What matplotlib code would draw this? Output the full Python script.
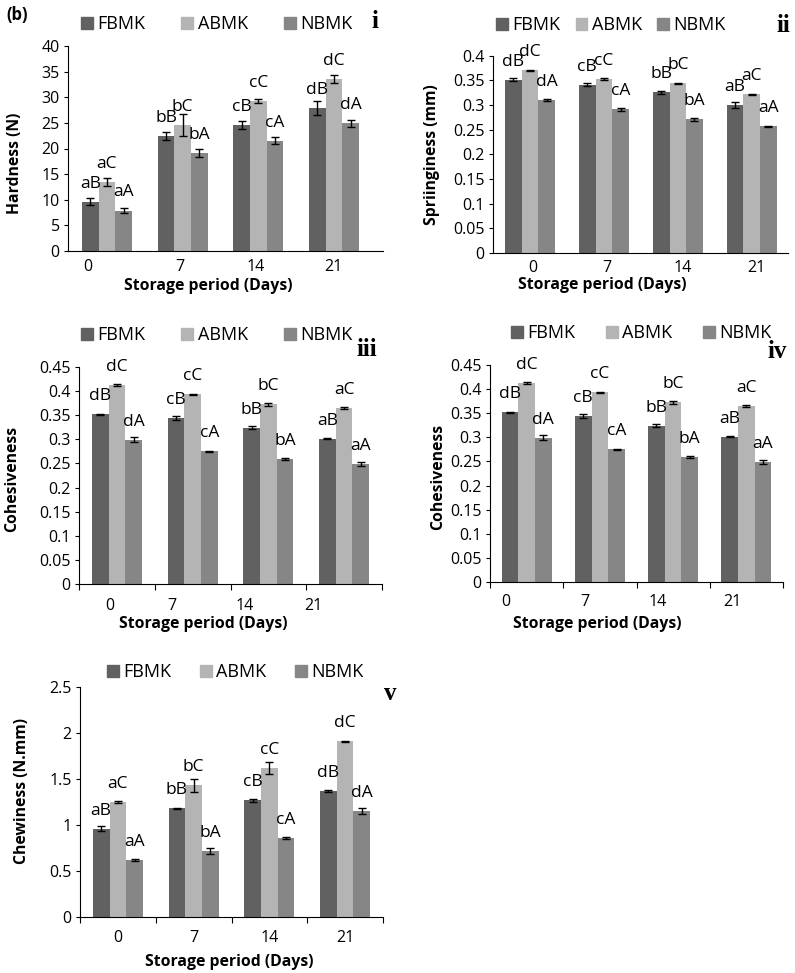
import matplotlib
matplotlib.use('Agg')
import matplotlib.pyplot as plt
import numpy as np
from matplotlib.patches import Patch

plt.rcParams['font.family'] = ['Open Sans', 'DejaVu Sans']

days = ['0', '7', '14', '21']
groups = ['FBMK', 'ABMK', 'NBMK']
colors = ['#616161', '#b4b4b4', '#868686']

# hardness (N)
hard_fbmk = [9.6, 22.4, 24.6, 27.9]
hard_abmk = [13.5, 24.6, 29.2, 33.5]
hard_nbmk = [7.9, 19.2, 21.5, 24.9]
hard_fbmk_err = [0.7, 0.8, 0.7, 1.3]
hard_abmk_err = [0.8, 2.1, 0.4, 0.8]
hard_nbmk_err = [0.4, 0.8, 0.7, 0.7]
hard_fbmk_lab = ['aB', 'bB', 'cB', 'dB']
hard_abmk_lab = ['aC', 'bC', 'cC', 'dC']
hard_nbmk_lab = ['aA', 'bA', 'cA', 'dA']

# springiness (mm)
spr_fbmk = [0.351, 0.341, 0.326, 0.300]
spr_abmk = [0.370, 0.353, 0.344, 0.322]
spr_nbmk = [0.310, 0.291, 0.271, 0.257]
spr_fbmk_err = [0.003, 0.003, 0.003, 0.006]
spr_abmk_err = [0.002, 0.002, 0.001, 0.001]
spr_nbmk_err = [0.002, 0.003, 0.003, 0.001]
spr_fbmk_lab = ['dB', 'cB', 'bB', 'aB']
spr_abmk_lab = ['dC', 'cC', 'bC', 'aC']
spr_nbmk_lab = ['dA', 'cA', 'bA', 'aA']

# cohesiveness
coh_fbmk = [0.352, 0.344, 0.324, 0.301]
coh_abmk = [0.412, 0.393, 0.373, 0.365]
coh_nbmk = [0.299, 0.275, 0.260, 0.249]
coh_fbmk_err = [0.001, 0.004, 0.003, 0.001]
coh_abmk_err = [0.002, 0.002, 0.003, 0.002]
coh_nbmk_err = [0.005, 0.001, 0.002, 0.004]
coh_fbmk_lab = ['dB', 'cB', 'bB', 'aB']
coh_abmk_lab = ['dC', 'cC', 'bC', 'aC']
coh_nbmk_lab = ['dA', 'cA', 'bA', 'aA']

# chewiness (N.mm)
chew_fbmk = [0.96, 1.18, 1.27, 1.37]
chew_abmk = [1.25, 1.43, 1.62, 1.91]
chew_nbmk = [0.62, 0.72, 0.86, 1.15]
chew_fbmk_err = [0.03, 0.01, 0.015, 0.015]
chew_abmk_err = [0.01, 0.07, 0.07, 0.005]
chew_nbmk_err = [0.01, 0.03, 0.01, 0.03]
chew_fbmk_lab = ['aB', 'bB', 'cB', 'dB']
chew_abmk_lab = ['aC', 'bC', 'cC', 'dC']
chew_nbmk_lab = ['aA', 'bA', 'cA', 'dA']

W, H = 795, 973
fig = plt.figure(figsize=(W / 100, H / 100), dpi=100)


def px_axes(L, R, T, B):
    return fig.add_axes([L / W, 1 - B / H, (R - L) / W, (B - T) / H])


def draw_panel(ax, vals, errs, labs, xlim, bw, ylim, ystep, ylabel,
               tick_pos, boundary_ticks, label_pad, xlab_xy, ylab_xy):
    x = np.arange(len(days))
    for k in range(3):
        xs = x + (k - 1) * bw
        ax.bar(xs, vals[k], width=bw, color=colors[k], zorder=2)
        ax.errorbar(xs, vals[k], yerr=errs[k], fmt='none', ecolor='black',
                    elinewidth=1, capsize=3, capthick=1, zorder=3)
        for xi, v, t in zip(xs, vals[k], labs[k]):
            ax.annotate(t, (xi, v), xytext=(0, 13), textcoords='offset points',
                        ha='center', va='center', fontsize=12.5)
    ax.set_xlim(*xlim)
    ax.set_ylim(*ylim)
    ax.set_yticks(np.arange(ylim[0], ylim[1] + ystep / 2, ystep))
    ax.yaxis.set_major_formatter(plt.FuncFormatter(lambda v, p: f'{round(v, 3):g}'))
    ax.tick_params(axis='y', length=3, width=0.8, pad=3, labelsize=11.5)
    if boundary_ticks:
        ax.set_xticks(np.arange(-0.5, len(days)))
        ax.set_xticklabels([])
        ax.tick_params(axis='x', which='major', length=4, width=0.8)
    else:
        ax.set_xticks([])
    ax.set_xticks(tick_pos, minor=True)
    ax.set_xticklabels(days, minor=True)
    ax.tick_params(axis='x', which='minor', length=0, pad=label_pad, labelsize=11.5)
    for s in ['top', 'right']:
        ax.spines[s].set_visible(False)
    for s in ['left', 'bottom']:
        ax.spines[s].set_linewidth(0.8)
    ax.set_xlabel('Storage period (Days)', fontsize=11.3, fontweight='bold')
    ax.xaxis.set_label_coords(*xlab_xy)
    ax.xaxis.label.set_va('center')
    ax.set_ylabel(ylabel, fontsize=11.3, fontweight='bold')
    ax.yaxis.set_label_coords(*ylab_xy)
    ax.yaxis.label.set_va('center')


def add_legend(ax, x_px, y_px, colsp):
    handles = [Patch(color=c, label=g) for c, g in zip(colors, groups)]
    ax.legend(handles=handles, ncol=3, loc='center left', frameon=False,
              bbox_to_anchor=(x_px / W, 1 - y_px / H), bbox_transform=fig.transFigure,
              borderpad=0, borderaxespad=0, handlelength=0.65, handleheight=0.65,
              handletextpad=0.25, columnspacing=colsp, fontsize=13)


# panel i
ax1 = px_axes(68, 383, 46, 251)
draw_panel(ax1, [hard_fbmk, hard_abmk, hard_nbmk],
           [hard_fbmk_err, hard_abmk_err, hard_nbmk_err],
           [hard_fbmk_lab, hard_abmk_lab, hard_nbmk_lab],
           (-0.515, 3.646), 0.22, (0, 40), 5, 'Hardness (N)',
           [-0.25, 0.96, 1.96, 2.99], False, 6, (0.444, -0.171), (-0.168, 0.43))
add_legend(ax1, 81, 24, 2.0)

# panel ii
ax2 = px_axes(493, 788, 55.7, 253)
draw_panel(ax2, [spr_fbmk, spr_abmk, spr_nbmk],
           [spr_fbmk_err, spr_abmk_err, spr_nbmk_err],
           [spr_fbmk_lab, spr_abmk_lab, spr_nbmk_lab],
           (-0.5, 3.49), 0.225, (0, 0.4), 0.05, 'Spriinginess (mm)',
           [0.04, 1.04, 2.06, 3.06], False, 5, (0.37, -0.162), (-0.207, 0.497))
add_legend(ax2, 496, 25, 0.85)

# panel iii
ax3 = px_axes(79, 382, 367, 584)
draw_panel(ax3, [coh_fbmk, coh_abmk, coh_nbmk],
           [coh_fbmk_err, coh_abmk_err, coh_nbmk_err],
           [coh_fbmk_lab, coh_abmk_lab, coh_nbmk_lab],
           (-0.5, 3.5), 0.22, (0, 0.45), 0.05, 'Cohesiveness',
           [-0.09, 0.73, 1.69, 2.59], True, 10, (0.41, -0.184), (-0.221, 0.484))
add_legend(ax3, 81, 335, 2.0)

# panel iv
ax4 = px_axes(490, 783, 365, 582)
draw_panel(ax4, [coh_fbmk, coh_abmk, coh_nbmk],
           [coh_fbmk_err, coh_abmk_err, coh_nbmk_err],
           [coh_fbmk_lab, coh_abmk_lab, coh_nbmk_lab],
           (-0.5, 3.5), 0.227, (0, 0.45), 0.05, 'Cohesiveness',
           [-0.28, 0.80, 1.79, 2.81], True, 9, (0.365, -0.193), (-0.177, 0.484))
add_legend(ax4, 511, 333, 1.7)

# panel v
ax5 = px_axes(80, 383, 687, 917)
draw_panel(ax5, [chew_fbmk, chew_abmk, chew_nbmk],
           [chew_fbmk_err, chew_abmk_err, chew_nbmk_err],
           [chew_fbmk_lab, chew_abmk_lab, chew_nbmk_lab],
           (-0.5, 3.5), 0.22, (0, 2.5), 0.5, 'Chewiness (N.mm)',
           [0, 1, 2, 3], True, 9, (0.492, -0.196), (-0.191, 0.548))
add_legend(ax5, 107, 672, 1.6)

# panel tags
for t, xp, yp in [('i', 375, 22), ('ii', 783, 25), ('iii', 367, 350),
                  ('iv', 777, 352), ('v', 390, 693)]:
    fig.text(xp / W, 1 - yp / H, t, family='Liberation Serif', fontweight='bold',
             fontsize=18, ha='center', va='center')
fig.text(17 / W, 1 - 15 / H, '(b)', fontweight='bold', fontsize=12,
         ha='center', va='center')

fig.savefig('out.png', dpi=100)
